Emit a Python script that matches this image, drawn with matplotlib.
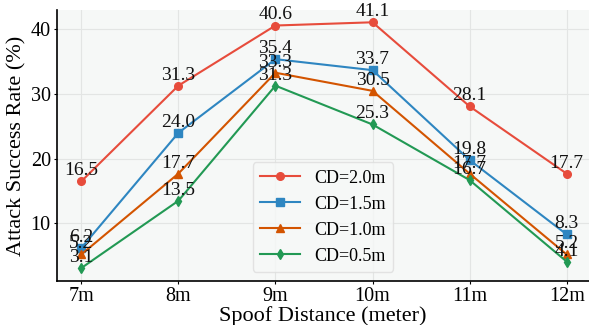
import numpy as np
import matplotlib
matplotlib.use('Agg')
import matplotlib.pyplot as plt

plt.rcParams['font.family'] = ['Liberation Serif', 'DejaVu Serif']
plt.rcParams['mathtext.fontset'] = 'stix'

distances = ['7m', '8m', '9m', '10m', '11m', '12m']
cd_labels = ['CD=2.0m', 'CD=1.5m', 'CD=1.0m', 'CD=0.5m']
asr_20 = [16.5, 31.3, 40.6, 41.1, 28.1, 17.7]
asr_15 = [6.2, 24.0, 35.4, 33.7, 19.8, 8.3]
asr_10 = [5.2, 17.7, 33.3, 30.5, 17.7, 5.2]
asr_05 = [3.1, 13.5, 31.3, 25.3, 16.7, 4.1]

series = [asr_20, asr_15, asr_10, asr_05]
colors = ['#e74c3c', '#2e86c1', '#d35400', '#229954']
markers = ['o', 's', '^', 'd']

fig = plt.figure(figsize=(5.89, 3.25), dpi=100)
ax = fig.add_axes([57/589, 1 - 281/325, 1 - 57/589, 271/325])
ax.set_facecolor('#f6f8f7')

x = np.arange(len(distances))
for vals, lab, c, m in zip(series, cd_labels, colors, markers):
    ax.plot(x, vals, color=c, marker=m, markersize=5.5, linewidth=1.5, label=lab)
    for xi, v in zip(x, vals):
        ax.annotate('%.1f' % v, (xi, v), xytext=(0, 1.5), textcoords='offset points',
                    ha='center', va='bottom', fontsize=14, color='#111111')

ax.set_xticks(x)
ax.set_xticklabels(distances)
ax.set_yticks([10, 20, 30, 40])
ax.set_xlim(-0.25, 5.23)
ax.set_ylim(1.1, 43.0)
ax.tick_params(labelsize=14.5, length=2.5, pad=2)
ax.grid(True, color='#e3e5e4', linewidth=0.8)
ax.set_axisbelow(True)
for s in ['top', 'right']:
    ax.spines[s].set_visible(False)
for s in ['left', 'bottom']:
    ax.spines[s].set_linewidth(1.2)

ax.set_xlabel('Spoof Distance (meter)', fontsize=16, labelpad=0)
ax.set_ylabel('Attack Success Rate (%)', fontsize=16, labelpad=3)
ax.legend(loc='lower center', fontsize=13, frameon=True, facecolor='#f6f8f7',
          edgecolor='#dddddd', handlelength=2.2)

fig.savefig('out.png', dpi=100)
